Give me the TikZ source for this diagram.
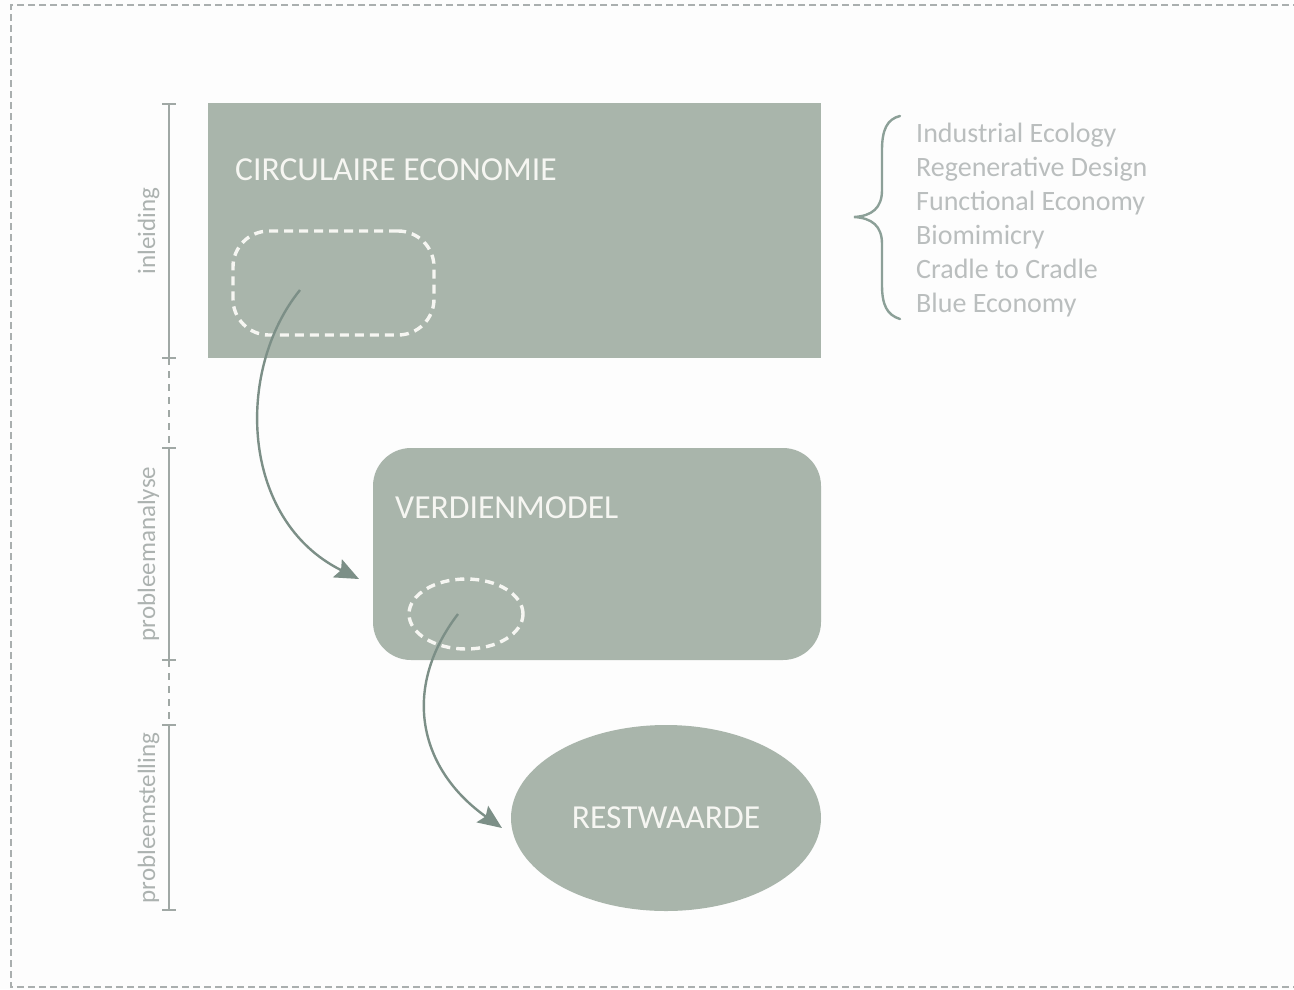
\documentclass[tikz,border=0pt]{standalone}
\usepackage{fontspec}
\setmainfont{Carlito}
\usetikzlibrary{arrows.meta,shapes.geometric}
\definecolor{bgcol}{RGB}{253,253,253}
\definecolor{boxfill}{RGB}{169,181,171}
\definecolor{boxtext}{RGB}{246,246,242}
\definecolor{listtext}{RGB}{186,190,190}
\definecolor{sidetext}{RGB}{172,178,176}
\definecolor{axiscol}{RGB}{160,168,165}
\definecolor{arrowcol}{RGB}{124,143,135}
\definecolor{bracecol}{RGB}{140,160,152}
\definecolor{framecol}{RGB}{170,175,175}
\tikzset{
  shapebox/.style={fill=boxfill, draw=none, inner sep=0pt},
  boxlabel/.style={text=boxtext, font=\fontsize{33.6}{40}\selectfont, inner sep=0pt, anchor=base west},
  listitem/.style={text=listtext, font=\fontsize{28}{34}\selectfont, inner sep=0pt, anchor=base west},
  sidelabel/.style={text=sidetext, font=\fontsize{25}{30}\selectfont, inner sep=0pt, anchor=base, rotate=90},
  whitedash/.style={draw=boxtext, line width=3.4pt, dash pattern=on 9pt off 6pt, fill=none, inner sep=0pt},
  axisline/.style={draw=axiscol, line width=2.4pt},
  axisdash/.style={draw=axiscol, line width=2.4pt, dash pattern=on 7pt off 6pt},
  flow/.style={draw=arrowcol, line width=2.4pt, -{Stealth[length=24pt,width=20pt,inset=4pt]}},
}
\begin{document}
\begin{tikzpicture}[x=1pt,y=-1pt]
\useasboundingbox (0,0) rectangle (1294,989);
\fill[bgcol] (0,0) rectangle (1294,989);
% outer frame (right side is outside the picture)
\draw[framecol, line width=1.6pt, dash pattern=on 7pt off 4pt] (1300,5) -- (11,5) -- (11,987) -- (1300,987);

% boxes
\node[shapebox, rectangle, minimum width=613pt, minimum height=255pt] (ce) at (514.5,230.5) {};
\node[boxlabel] (celabel) at (235,180) {CIRCULAIRE ECONOMIE};
\node[whitedash, rectangle, rounded corners=36pt, minimum width=201pt, minimum height=104pt] (cedash) at (333.5,283) {};

\node[shapebox, rectangle, rounded corners=38pt, minimum width=448pt, minimum height=212pt] (vm) at (597,554) {};
\node[boxlabel] (vmlabel) at (395,518) {VERDIENMODEL};
\node[whitedash, ellipse, minimum width=114pt, minimum height=70pt] (vmdash) at (466,614) {};

\node[shapebox, ellipse, minimum width=310pt, minimum height=186pt, text=boxtext, font=\fontsize{33.6}{40}\selectfont] (rw) at (666,818) {RESTWAARDE};

% arrows
\coordinate (s1) at (300,290);
\coordinate (e1) at (359,579);
\coordinate (s2) at (458,614);
\coordinate (e2) at (502,828);
\draw[flow] (s1) .. controls (235,370) and (240,520) .. (e1);
\draw[flow] (s2) .. controls (400,690) and (420,770) .. (e2);

% phase axis
\draw[axisline] (169,104) -- (169,358);
\draw[axisdash] (169,358) -- (169,448);
\draw[axisline] (169,448) -- (169,660);
\draw[axisdash] (169,660) -- (169,725);
\draw[axisline] (169,725) -- (169,910);
\foreach \yy in {104,358,448,660,725,910}
  \draw[axisline] (162,\yy) -- (176,\yy);
\node[sidelabel] (inl) at (155,231) {inleiding};
\node[sidelabel] (pa) at (155,554) {probleemanalyse};
\node[sidelabel] (ps) at (155,818) {probleemstelling};

% brace
\draw[bracecol, line width=2.4pt, line cap=round]
  (900,116) .. controls (887,119) and (882,130) .. (882,150)
  -- (882,190) .. controls (882,208) and (872,216) .. (854,217)
  .. controls (872,218) and (882,226) .. (882,244)
  -- (882,285) .. controls (882,305) and (887,315) .. (900,319);

% list
\node[listitem] (l1) at (916,142) {Industrial Ecology};
\node[listitem] (l2) at (916,176) {Regenerative Design};
\node[listitem] (l3) at (916,210) {Functional Economy};
\node[listitem] (l4) at (916,244) {Biomimicry};
\node[listitem] (l5) at (916,278) {Cradle to Cradle};
\node[listitem] (l6) at (916,312) {Blue Economy};
\end{tikzpicture}
\end{document}
